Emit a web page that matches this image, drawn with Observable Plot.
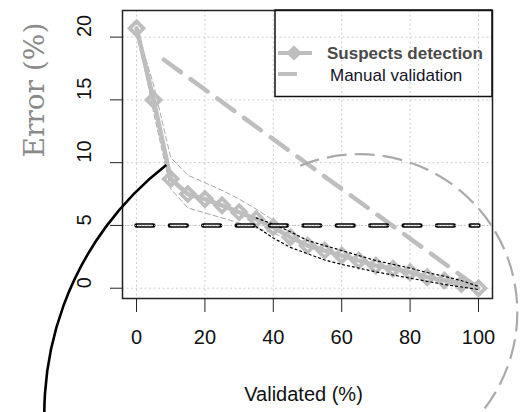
<!DOCTYPE html>
<html><head><meta charset="utf-8">
<script src="https://cdn.jsdelivr.net/npm/d3@7"></script>
<script src="https://cdn.jsdelivr.net/npm/@observablehq/plot@0.6"></script>
<style>body{margin:0;background:#fff;} #chart svg{display:block;}</style>
</head><body><div id="chart"></div>
<script>
// ---- data ----
const validated = [0,5,10,15,20,25,30,35,40,45,50,55,60,65,70,75,80,85,90,95,100];
const suspectsError = [20.7,15.0,8.7,7.5,7.1,6.6,6.05,5.5,4.86,4.06,3.4,3.0,2.6,2.2,1.8,1.55,1.27,0.88,0.61,0.35,0.0];
const grayBandX = [0,5,10,15,20,25,30,35,40,45];
const grayBandUpper = [20.7,16.2,10.4,9.0,8.4,7.8,7.1,6.3,5.4,4.4];
const grayBandLower = [20.7,14.0,7.9,6.4,6.0,5.6,5.2,4.8,4.4,3.8];
const blackBandX = [35,40,45,50,55,60,65,70,75,80,85,90,95,100];
const blackBandUpper = [5.6,5.1,4.5,3.8,3.4,3.0,2.6,2.2,1.9,1.6,1.25,0.95,0.6,0.15];
const blackBandLower = [4.9,4.0,3.25,2.75,2.25,1.9,1.6,1.3,1.05,0.8,0.55,0.3,0.1,-0.1];
const manualX = [8,100];
const manualError = [18.2,0];
const thresholdX = [0,100];
const thresholdError = [5,5];
const xTicks = [0,20,40,60,80,100];
const yTicks = [0,5,10,15,20];
const seriesNames = ["Suspects detection","Manual validation"];
const xLabel = "Validated (%)";
const yLabel = "Error (%)";

const suspects = validated.map((v,i)=>({x:v, y:suspectsError[i]}));
const grayBand = grayBandX.map((v,i)=>({x:v, hi:grayBandUpper[i], lo:grayBandLower[i]}));
const blackBand = blackBandX.map((v,i)=>({x:v, hi:blackBandUpper[i], lo:blackBandLower[i]}));
const manual = manualX.map((v,i)=>({x:v, y:manualError[i]}));
const threshold = thresholdX.map((v,i)=>({x:v, y:thresholdError[i]}));

const GRAY = "#bebebe";
const sans = "'Liberation Sans', Arial, sans-serif";

function arcPath(cx, cy, R, deg0, deg1, sweep) {
  const a0 = deg0*Math.PI/180, a1 = deg1*Math.PI/180;
  const large = Math.abs(deg1 - deg0) > 180 ? 1 : 0;
  return `M${cx+R*Math.cos(a0)},${cy+R*Math.sin(a0)}A${R},${R} 0 ${large} ${sweep} ${cx+R*Math.cos(a1)},${cy+R*Math.sin(a1)}`;
}

// annotation shapes (centres in data units, radii in px)
const annotations = (index, scales, values, dims) => {
  const g = d3.create("svg:g").attr("fill","none");
  const cx = scales.x(65.3), cy = scales.y(-1.95);
  g.append("path").attr("d", arcPath(cx, cy, 158, 248, 405, 1))
    .attr("stroke","#aaaaaa").attr("stroke-width",2.2).attr("stroke-dasharray","20,8");
  const ax = scales.x(65.3), ay = scales.y(-10.05);
  g.append("path").attr("d", arcPath(ax, ay, 315, 232.2, 168, 0))
    .attr("stroke","#000").attr("stroke-width",2.6);
  return g.node();
};

// legend inside the top-right corner of the frame
const legend = (index, scales, values, dims) => {
  const right = dims.width - dims.marginRight, top = dims.marginTop;
  const g = d3.create("svg:g").attr("text-anchor","start");
  g.append("rect").attr("x",right-217).attr("y",top).attr("width",217).attr("height",86.5)
    .attr("fill","none").attr("stroke","#111").attr("stroke-width",1.5);
  g.append("line").attr("x1",right-214).attr("x2",right-180).attr("y1",top+43).attr("y2",top+43)
    .attr("stroke",GRAY).attr("stroke-width",4);
  g.append("path").attr("d",`M${right-198},${top+35.5}l8,7.5l-8,7.5l-8,-7.5z`).attr("fill",GRAY);
  g.append("line").attr("x1",right-214).attr("x2",right-195).attr("y1",top+64).attr("y2",top+64)
    .attr("stroke",GRAY).attr("stroke-width",4);
  g.append("text").attr("x",right-165).attr("y",top+43).attr("dy","0.35em").attr("text-anchor","start")
    .attr("font-family",sans).attr("font-size",17).attr("font-weight","bold").attr("fill","#4a4a4a")
    .text(seriesNames[0]);
  g.append("text").attr("x",right-162).attr("y",top+65).attr("dy","0.35em").attr("text-anchor","start")
    .attr("font-family",sans).attr("font-size",17).attr("fill","#14142a")
    .text(seriesNames[1]);
  return g.node();
};

const plot = Plot.plot({
  width: 526, height: 412,
  marginLeft: 122, marginRight: 34, marginTop: 10, marginBottom: 114,
  style: {fontFamily: sans, fontSize: "20px", color: "#222", background: "white", overflow: "visible"},
  x: {domain: [-4.1, 104.1], ticks: xTicks, tickSize: 14, tickFormat: () => "", label: null},
  y: {domain: [-0.82, 22.12], ticks: yTicks, tickSize: 12, tickFormat: () => "", label: null},
  marks: [
    Plot.ruleX(xTicks, {x: d=>d, stroke: "#cfcfcf", strokeDasharray: "2,2.5", strokeWidth: 1}),
    Plot.ruleY(yTicks, {y: d=>d, stroke: "#cfcfcf", strokeDasharray: "2,2.5", strokeWidth: 1}),
    Plot.line(grayBand, {x:"x", y:"hi", stroke:"#a8a8a8", strokeWidth:1, strokeDasharray:"5,3"}),
    Plot.line(grayBand, {x:"x", y:"lo", stroke:"#a8a8a8", strokeWidth:1, strokeDasharray:"5,3"}),
    Plot.line(manual, {x:"x", y:"y", stroke:GRAY, strokeWidth:4.5, strokeDasharray:"21,12"}),
    Plot.line(suspects, {x:"x", y:"y", stroke:GRAY, strokeWidth:4.5}),
    Plot.dot(suspects, {x:"x", y:"y", symbol:"diamond2", r:6.2, stroke:GRAY, strokeWidth:3.8, fill:"none"}),
    Plot.line(blackBand, {x:"x", y:"hi", stroke:"#000", strokeWidth:1.2, strokeDasharray:"2,3"}),
    Plot.line(blackBand, {x:"x", y:"lo", stroke:"#000", strokeWidth:1.2, strokeDasharray:"2,3"}),
    Plot.line(threshold, {x:"x", y:"y", stroke:"#000", strokeWidth:4.6, strokeDasharray:"16.7,16.7"}),
    Plot.line(threshold, {x:"x", y:"y", stroke:"#f4f4f4", strokeWidth:1.6, strokeDasharray:"14.7,18.7", strokeDashoffset:-1}),
    Plot.ruleY([5], {y: d=>d, stroke: "#bbb", strokeDasharray: "1.2,2", strokeWidth: 1}),
    Plot.frame({stroke:"#222", strokeWidth:1.5}),
    Plot.text(xTicks, {x: d=>d, text: d=>String(d), frameAnchor:"bottom", dy:45, fontSize:20, fill:"#111"}),
    Plot.text(yTicks, {y: d=>d, text: d=>String(d), frameAnchor:"left", dx:-38, rotate:-90, fontSize:20, fill:"#111"}),
    Plot.text([xLabel], {text: d=>d, frameAnchor:"bottom", dy:102, dx:-4, fontSize:20, fill:"#111"}),
    Plot.text([yLabel], {text: d=>d, frameAnchor:"left", dx:-87, dy:3, rotate:-90, fontSize:28, fontFamily:"'DejaVu Serif', serif", fill:"#8a8a8a"}),
    legend,
    annotations
  ]
});
document.getElementById("chart").appendChild(plot);
</script>
</body></html>
